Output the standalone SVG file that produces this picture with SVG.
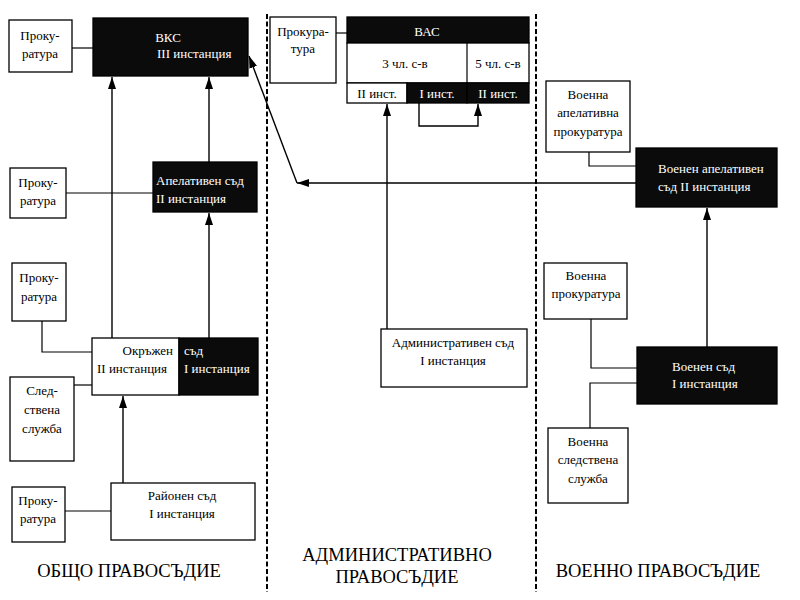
<svg xmlns="http://www.w3.org/2000/svg" width="800" height="600" viewBox="0 0 800 600">
<style>
  .box { fill: #ffffff; stroke: #000000; stroke-width: 1.3; }
  .dark { fill: #0b0b0b; stroke: #000000; stroke-width: 1.3; }
  text { font-family: "Liberation Serif", "DejaVu Serif", "Times New Roman", serif; }
  .t { font-size: 13px; fill: #000000; }
  .w { font-size: 13px; fill: #ffffff; }
  .c { text-anchor: middle; }
  .title { font-size: 18.5px; fill: #000000; text-anchor: middle; }
  .ln { fill: none; stroke: #000000; stroke-width: 1.2; }
  .arr { fill: none; stroke: #000000; stroke-width: 1.4; marker-end: url(#ah); }
  .dash { fill: none; stroke: #000000; stroke-width: 2; stroke-dasharray: 5 2.5; }
</style>
<defs>
  <marker id="ah" viewBox="0 0 12 8" refX="12" refY="4" markerWidth="12" markerHeight="8" markerUnits="userSpaceOnUse" orient="auto">
    <path d="M0,0 L12,4 L0,8 Z" fill="#000000"/>
  </marker>
</defs>
<rect width="800" height="600" fill="#ffffff"/>

<g id="separators">
  <line class="dash" x1="267" y1="14" x2="267" y2="592"/>
  <line class="dash" x1="536" y1="14" x2="536" y2="592"/>
</g>

<g id="connectors">
  <line class="ln" x1="72" y1="48" x2="93" y2="48"/>
  <line class="arr" x1="112" y1="338" x2="112" y2="77"/>
  <line class="arr" x1="209" y1="162" x2="209" y2="77"/>
  <line class="arr" x1="209" y1="338" x2="209" y2="213"/>
  <line class="ln" x1="66" y1="193" x2="153" y2="193"/>
  <polyline class="ln" points="42,321 42,352 93,352"/>
  <line class="ln" x1="74" y1="385" x2="93" y2="385"/>
  <line class="arr" x1="123" y1="483" x2="123" y2="396"/>
  <line class="ln" x1="65" y1="511" x2="111" y2="511"/>
  <line class="ln" x1="336" y1="33" x2="347" y2="33"/>
  <line class="arr" x1="387" y1="329" x2="387" y2="104"/>
  <polyline class="arr" points="419,103 419,126 478,126 478,104"/>
  <line class="arr" x1="636" y1="183" x2="297" y2="183"/>
  <line class="arr" x1="297" y1="183" x2="249" y2="56"/>
  <polyline class="ln" points="589,152 589,166 636,166"/>
  <line class="arr" x1="707" y1="347" x2="707" y2="208"/>
  <polyline class="ln" points="591,319 591,368 637,368"/>
  <polyline class="ln" points="590,428 590,383 637,383"/>
</g>

<g id="prok1">
  <rect class="box" x="9" y="20" width="63" height="52"/>
  <text class="t c" x="40" y="40">Проку-</text>
  <text class="t c" x="40" y="58">ратура</text>
</g>
<g id="vks">
  <rect class="dark" x="93" y="18" width="155" height="58"/>
  <text class="w c" x="168" y="42">ВКС</text>
  <text class="w" x="157" y="58">III инстанция</text>
</g>
<g id="prok2">
  <rect class="box" x="10" y="168" width="56" height="50"/>
  <text class="t c" x="38" y="187">Проку-</text>
  <text class="t c" x="38" y="205">ратура</text>
</g>
<g id="apel">
  <rect class="dark" x="153" y="162" width="104" height="50"/>
  <text class="w" x="156" y="185">Апелативен съд</text>
  <text class="w" x="156" y="203">II инстанция</text>
</g>
<g id="prok3">
  <rect class="box" x="12" y="263" width="54" height="58"/>
  <text class="t c" x="39" y="282">Проку-</text>
  <text class="t c" x="39" y="301">ратура</text>
</g>
<g id="okrazhen">
  <rect class="box" x="92" y="338" width="87" height="57"/>
  <rect class="dark" x="179" y="338" width="79" height="57"/>
  <text class="t" x="173" y="355" text-anchor="end">Окръжен</text>
  <text class="t" x="97" y="373">II инстанция</text>
  <text class="w" x="184" y="355">съд</text>
  <text class="w" x="184" y="373">I инстанция</text>
</g>
<g id="sledstvena">
  <rect class="box" x="10" y="377" width="64" height="84"/>
  <text class="t c" x="42" y="395">След-</text>
  <text class="t c" x="42" y="414">ствена</text>
  <text class="t c" x="42" y="433">служба</text>
</g>
<g id="prok4">
  <rect class="box" x="12" y="487" width="53" height="55"/>
  <text class="t c" x="38" y="505">Проку-</text>
  <text class="t c" x="38" y="523">ратура</text>
</g>
<g id="raionen">
  <rect class="box" x="111" y="483" width="144" height="57"/>
  <text class="t c" x="182" y="500">Районен съд</text>
  <text class="t c" x="182" y="518">I инстанция</text>
</g>

<g id="prok-adm">
  <rect class="box" x="270" y="17" width="66" height="66"/>
  <text class="t c" x="303" y="36">Прокура-</text>
  <text class="t c" x="303" y="53">тура</text>
</g>
<g id="vas">
  <rect class="dark" x="347" y="17" width="182" height="26"/>
  <rect class="box" x="347" y="43" width="182" height="40"/>
  <line class="ln" x1="467" y1="43" x2="467" y2="83"/>
  <rect class="box" x="347" y="83" width="60" height="20"/>
  <rect class="dark" x="407" y="83" width="60" height="20"/>
  <rect class="dark" x="467" y="83" width="62" height="20"/>
  <text class="w c" x="427" y="36">ВАС</text>
  <text class="t c" x="405" y="68">3 чл. с-в</text>
  <text class="t c" x="498" y="68">5 чл. с-в</text>
  <text class="t c" x="377" y="98">II инст.</text>
  <text class="w c" x="437" y="98">I инст.</text>
  <text class="w c" x="498" y="98">II инст.</text>
</g>
<g id="adm">
  <rect class="box" x="381" y="329" width="146" height="58"/>
  <text class="t c" x="453" y="347">Административен съд</text>
  <text class="t c" x="453" y="365">I инстанция</text>
</g>

<g id="voen-apel-prok">
  <rect class="box" x="546" y="81" width="84" height="71"/>
  <text class="t c" x="588" y="99">Военна</text>
  <text class="t c" x="588" y="117">апелативна</text>
  <text class="t c" x="588" y="136">прокуратура</text>
</g>
<g id="voen-apel">
  <rect class="dark" x="636" y="148" width="141" height="59"/>
  <text class="w" x="658" y="173">Военен апелативен</text>
  <text class="w" x="658" y="191">съд II инстанция</text>
</g>
<g id="voen-prok">
  <rect class="box" x="544" y="263" width="83" height="56"/>
  <text class="t c" x="586" y="280">Военна</text>
  <text class="t c" x="586" y="298">прокуратура</text>
</g>
<g id="voen-sad">
  <rect class="dark" x="637" y="347" width="140" height="57"/>
  <text class="w" x="672" y="371">Военен съд</text>
  <text class="w" x="672" y="388">I инстанция</text>
</g>
<g id="voen-sled">
  <rect class="box" x="548" y="428" width="80" height="75"/>
  <text class="t c" x="588" y="446">Военна</text>
  <text class="t c" x="588" y="464">следствена</text>
  <text class="t c" x="588" y="483">служба</text>
</g>

<g id="titles">
  <text class="title" x="129" y="577">ОБЩО ПРАВОСЪДИЕ</text>
  <text class="title" x="397" y="561">АДМИНИСТРАТИВНО</text>
  <text class="title" x="397" y="583">ПРАВОСЪДИЕ</text>
  <text class="title" x="658" y="577">ВОЕННО ПРАВОСЪДИЕ</text>
</g>
</svg>
